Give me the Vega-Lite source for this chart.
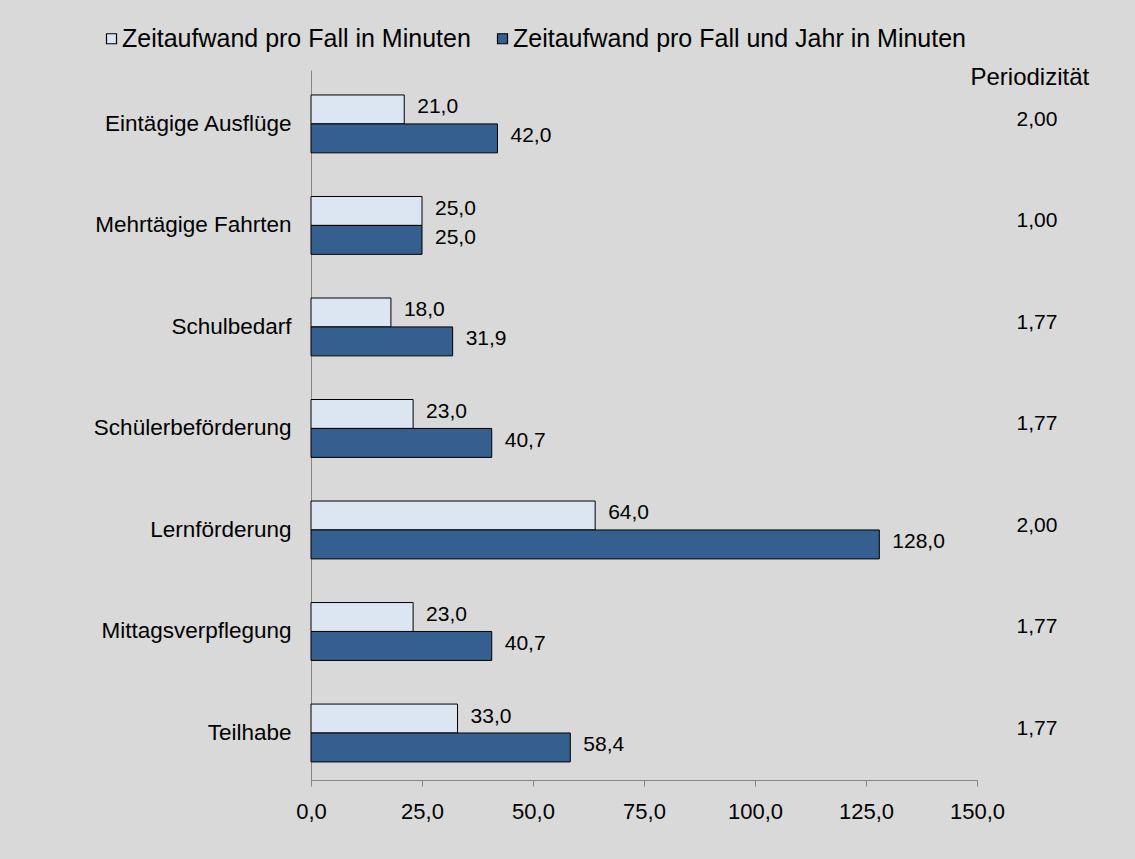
{
  "$schema": "https://vega.github.io/schema/vega-lite/v6.json",
  "autosize": {"type": "none"},
  "width": 666,
  "height": 710,
  "padding": {"left": 311, "top": 70, "right": 158, "bottom": 79},
  "background": "#d9d9d9",
  "config": {
    "locale": {"number": {"decimal": ",", "thousands": ".", "grouping": [3], "currency": ["", " €"]}},
    "view": {"stroke": null},
    "font": "Liberation Sans",
    "axis": {"grid": false, "labelFont": "Liberation Sans", "labelColor": "#000000", "domainColor": "#868686", "tickColor": "#868686"}
  },
  "datasets": {
    "bars": [
      {"Kategorie": "Eintägige Ausflüge", "Reihe": "Zeitaufwand pro Fall in Minuten", "Wert": 21.0},
      {"Kategorie": "Eintägige Ausflüge", "Reihe": "Zeitaufwand pro Fall und Jahr in Minuten", "Wert": 42.0},
      {"Kategorie": "Mehrtägige Fahrten", "Reihe": "Zeitaufwand pro Fall in Minuten", "Wert": 25.0},
      {"Kategorie": "Mehrtägige Fahrten", "Reihe": "Zeitaufwand pro Fall und Jahr in Minuten", "Wert": 25.0},
      {"Kategorie": "Schulbedarf", "Reihe": "Zeitaufwand pro Fall in Minuten", "Wert": 18.0},
      {"Kategorie": "Schulbedarf", "Reihe": "Zeitaufwand pro Fall und Jahr in Minuten", "Wert": 31.9},
      {"Kategorie": "Schülerbeförderung", "Reihe": "Zeitaufwand pro Fall in Minuten", "Wert": 23.0},
      {"Kategorie": "Schülerbeförderung", "Reihe": "Zeitaufwand pro Fall und Jahr in Minuten", "Wert": 40.7},
      {"Kategorie": "Lernförderung", "Reihe": "Zeitaufwand pro Fall in Minuten", "Wert": 64.0},
      {"Kategorie": "Lernförderung", "Reihe": "Zeitaufwand pro Fall und Jahr in Minuten", "Wert": 128.0},
      {"Kategorie": "Mittagsverpflegung", "Reihe": "Zeitaufwand pro Fall in Minuten", "Wert": 23.0},
      {"Kategorie": "Mittagsverpflegung", "Reihe": "Zeitaufwand pro Fall und Jahr in Minuten", "Wert": 40.7},
      {"Kategorie": "Teilhabe", "Reihe": "Zeitaufwand pro Fall in Minuten", "Wert": 33.0},
      {"Kategorie": "Teilhabe", "Reihe": "Zeitaufwand pro Fall und Jahr in Minuten", "Wert": 58.4}
    ],
    "period": [
      {"Kategorie": "Eintägige Ausflüge", "Periodizitaet": 2.00, "Spalte": 163.5},
      {"Kategorie": "Mehrtägige Fahrten", "Periodizitaet": 1.00, "Spalte": 163.5},
      {"Kategorie": "Schulbedarf", "Periodizitaet": 1.77, "Spalte": 163.5},
      {"Kategorie": "Schülerbeförderung", "Periodizitaet": 1.77, "Spalte": 163.5},
      {"Kategorie": "Lernförderung", "Periodizitaet": 2.00, "Spalte": 163.5},
      {"Kategorie": "Mittagsverpflegung", "Periodizitaet": 1.77, "Spalte": 163.5},
      {"Kategorie": "Teilhabe", "Periodizitaet": 1.77, "Spalte": 163.5}
    ],
    "header": [
      {"Kategorie": "Eintägige Ausflüge", "Text": "Periodizität", "Spalte": 161.9}
    ]
  },
  "encoding": {
    "y": {
      "field": "Kategorie", "type": "nominal",
      "sort": ["Eintägige Ausflüge", "Mehrtägige Fahrten", "Schulbedarf", "Schülerbeförderung", "Lernförderung", "Mittagsverpflegung", "Teilhabe"],
      "scale": {"paddingInner": 0.43, "paddingOuter": 0.212, "align": 0.58},
      "axis": {"title": null, "ticks": false, "labelFontSize": 22.5, "labelPadding": 20, "domainColor": "#868686", "labelLimit": 300}
    }
  },
  "layer": [
    {
      "data": {"name": "bars"},
      "mark": {"type": "bar", "stroke": "#000000", "strokeWidth": 1},
      "encoding": {
        "x": {
          "field": "Wert", "type": "quantitative",
          "scale": {"domain": [0, 150], "nice": false},
          "axis": {"title": null, "values": [0, 25, 50, 75, 100, 125, 150], "format": ".1f", "labelFontSize": 22, "tickSize": 6, "labelPadding": 15, "labelFlush": false, "labelOverlap": false}
        },
        "yOffset": {"field": "Reihe", "type": "nominal", "sort": ["Zeitaufwand pro Fall in Minuten", "Zeitaufwand pro Fall und Jahr in Minuten"], "scale": {"paddingInner": 0, "paddingOuter": 0}},
        "fill": {
          "field": "Reihe", "type": "nominal",
          "scale": {"domain": ["Zeitaufwand pro Fall in Minuten", "Zeitaufwand pro Fall und Jahr in Minuten"], "range": ["#dce6f2", "#345f8e"]},
          "legend": {
            "title": null, "orient": "none", "direction": "horizontal",
            "legendX": -212, "legendY": -44, "padding": 0,
            "symbolType": "square", "symbolSize": 100, "symbolStrokeColor": "#000000", "symbolStrokeWidth": 1.2,
            "labelFontSize": 25, "labelFont": "Liberation Sans", "labelColor": "#000000", "labelOffset": -2,
            "columnPadding": 19, "labelLimit": 600
          }
        }
      }
    },
    {
      "data": {"name": "bars"},
      "mark": {"type": "text", "align": "left", "dx": 13, "dy": -2, "fontSize": 21, "color": "#000000", "baseline": "middle"},
      "encoding": {
        "x": {"field": "Wert", "type": "quantitative"},
        "yOffset": {"field": "Reihe", "type": "nominal", "sort": ["Zeitaufwand pro Fall in Minuten", "Zeitaufwand pro Fall und Jahr in Minuten"]},
        "text": {"field": "Wert", "type": "quantitative", "format": ".1f"}
      }
    },
    {
      "data": {"name": "period"},
      "mark": {"type": "text", "align": "center", "dy": -4, "fontSize": 21, "color": "#000000", "baseline": "middle", "clip": false},
      "encoding": {
        "x": {"field": "Spalte", "type": "quantitative"},
        "text": {"field": "Periodizitaet", "type": "quantitative", "format": ".2f"}
      }
    },
    {
      "data": {"name": "header"},
      "mark": {"type": "text", "align": "center", "dy": -46, "fontSize": 24, "color": "#000000", "baseline": "middle", "clip": false},
      "encoding": {
        "x": {"field": "Spalte", "type": "quantitative"},
        "text": {"field": "Text", "type": "nominal"}
      }
    }
  ]
}
